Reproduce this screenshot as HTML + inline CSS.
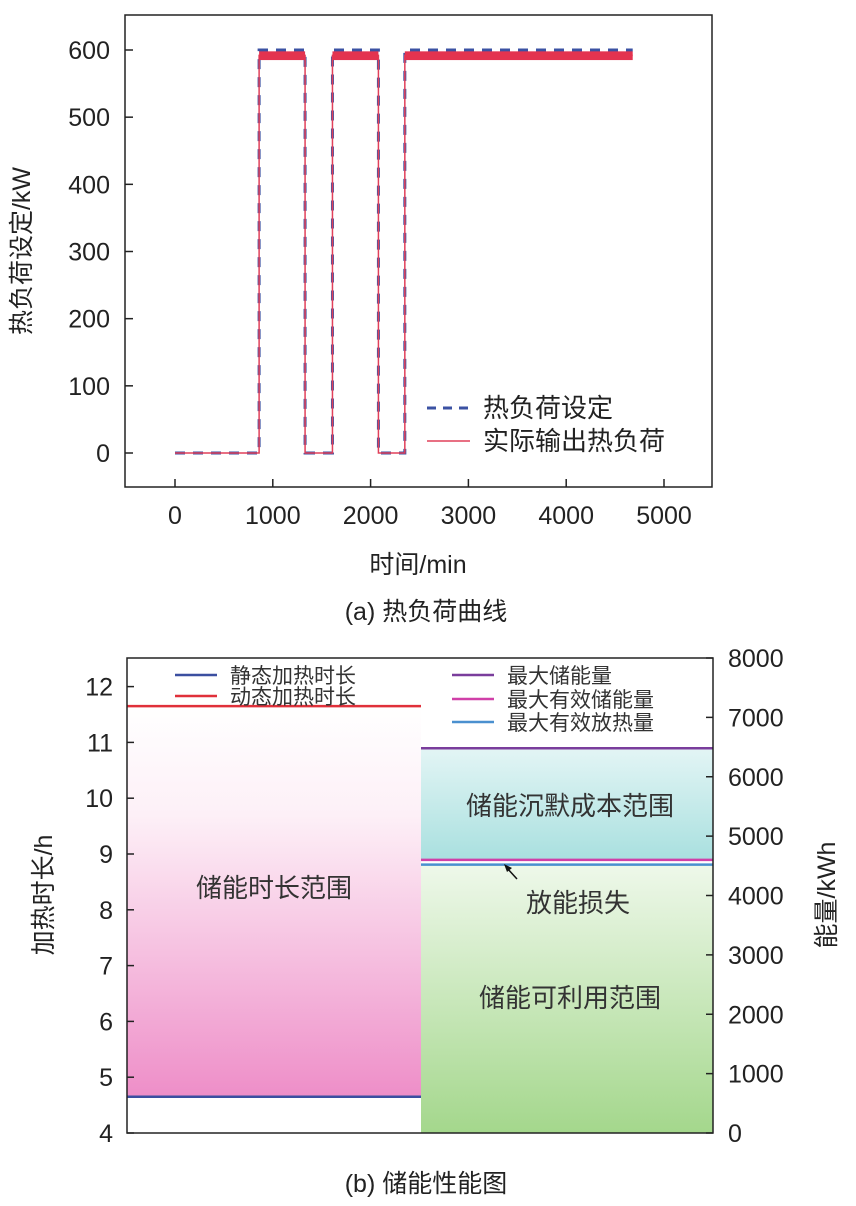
<!DOCTYPE html>
<html><head><meta charset="utf-8"><style>
body{margin:0;background:#fff;}
svg{display:block;font-family:"Liberation Sans","Noto Sans CJK SC",sans-serif;}
</style></head><body>
<svg width="856" height="1206" viewBox="0 0 856 1206">
<defs>
<linearGradient id="pink" x1="0" y1="0" x2="0" y2="1">
<stop offset="0" stop-color="#ffffff"/><stop offset="0.28" stop-color="#fdf0f7"/><stop offset="1" stop-color="#ee8ec8"/></linearGradient>
<linearGradient id="cyan" x1="0" y1="0" x2="0" y2="1">
<stop offset="0" stop-color="#e3f5f5"/><stop offset="1" stop-color="#a9e0df"/></linearGradient>
<linearGradient id="green" x1="0" y1="0" x2="0" y2="1">
<stop offset="0" stop-color="#eef8ea"/><stop offset="1" stop-color="#a4d78c"/></linearGradient>
</defs>
<g id="topchart"></g>
<g id="botchart"></g>
</svg>
<script>
const NS="http://www.w3.org/2000/svg";
function el(tag,attrs,parent,text){const e=document.createElementNS(NS,tag);for(const k in attrs)e.setAttribute(k,attrs[k]);if(text!==undefined)e.textContent=text;parent.appendChild(e);return e;}
// ---- Top chart data ----
const setTimes=[0,860,860,1330,1330,1610,1610,2080,2080,2350,2350,4680];
const setLoads=[0,0,600,600,0,0,600,600,0,0,600,600];
const actLoads=[0,0,592,592,0,0,592,592,0,0,592,592];
const xTicks=[0,1000,2000,3000,4000,5000];
const yTicks=[0,100,200,300,400,500,600];
const topG=document.getElementById('topchart');
const X=t=>175+t*0.0978, Y=v=>453-v*403/600;
let f=el('rect',{x:125,y:15,width:587,height:472,fill:'none',stroke:'#222','stroke-width':1.5},topG);


yTicks.forEach(v=>{el('line',{x1:125,x2:133,y1:Y(v),y2:Y(v),stroke:'#222','stroke-width':1.5},topG);
 const t=el('text',{x:110,y:Y(v)+9,'text-anchor':'end','font-size':25,fill:'#222'},topG,v);
 
 });
xTicks.forEach(v=>{el('line',{x1:X(v),x2:X(v),y1:487,y2:479,stroke:'#222','stroke-width':1.5},topG);
 const t=el('text',{x:X(v),y:524,'text-anchor':'middle','font-size':25,fill:'#222'},topG,v);
 
 });
let pts=setTimes.map((t,i)=>X(t)+','+Y(setLoads[i])).join(' ');
let sl=el('polyline',{points:pts,fill:'none',stroke:'#3b52a3','stroke-width':3,'stroke-dasharray':'10,8'},topG);


pts=setTimes.map((t,i)=>X(t)+','+Y(actLoads[i])).join(' ');
let al=el('polyline',{points:pts,fill:'none',stroke:'#e0405a','stroke-width':1.5},topG);


for(let i=2;i<setTimes.length;i+=4){
 const b=el('rect',{x:X(setTimes[i]),y:Y(598),width:X(setTimes[i+1])-X(setTimes[i]),height:Y(585)-Y(598),fill:'#e3334f'},topG);
 
 }
el('line',{x1:427,x2:470,y1:408,y2:408,stroke:'#3b52a3','stroke-width':3,'stroke-dasharray':'9,7'},topG);
el('text',{x:483,y:417,'font-size':26,fill:'#222'},topG,'热负荷设定');
el('line',{x1:427,x2:470,y1:441,y2:441,stroke:'#e0405a','stroke-width':1.5},topG);
el('text',{x:483,y:450,'font-size':26,fill:'#222'},topG,'实际输出热负荷');
let t=el('text',{x:30,y:251,'text-anchor':'middle','font-size':25,fill:'#222',transform:'rotate(-90 30 251)'},topG,'热负荷设定/kW');


t=el('text',{x:418,y:573,'text-anchor':'middle','font-size':25,fill:'#222'},topG,'时间/min');


t=el('text',{x:426,y:620,'text-anchor':'middle','font-size':25,fill:'#222'},topG,'(a) 热负荷曲线');


// ---- Bottom chart data ----
const leftTicks=[4,5,6,7,8,9,10,11,12];
const rightTicks=[0,1000,2000,3000,4000,5000,6000,7000,8000];
const staticHours=[4.65];
const dynamicHours=[11.65];
const energyLevels=[6480,4600,4520];
const botG=document.getElementById('botchart');
const YL=v=>1133-(v-4)*55.8, YR=v=>1133-v*475/8000;
const L=127,R=713,M=421;
let r=el('rect',{x:L,y:YL(dynamicHours[0]),width:M-L,height:YL(staticHours[0])-YL(dynamicHours[0]),fill:'url(#pink)'},botG);


r=el('rect',{x:M,y:YR(energyLevels[0]),width:R-M,height:YR(energyLevels[1])-YR(energyLevels[0]),fill:'url(#cyan)'},botG);


r=el('rect',{x:M,y:YR(energyLevels[2]),width:R-M,height:1133-YR(energyLevels[2]),fill:'url(#green)'},botG);


el('line',{x1:L,x2:M,y1:YL(dynamicHours[0]),y2:YL(dynamicHours[0]),stroke:'#e0303a','stroke-width':2.5},botG);
el('line',{x1:L,x2:M,y1:YL(staticHours[0]),y2:YL(staticHours[0]),stroke:'#3b4fa0','stroke-width':2.5},botG);
const ecol=['#7a3d9c','#d040a8','#4a90cf'];
energyLevels.forEach((v,i)=>{const l=el('line',{x1:M,x2:R,y1:YR(v),y2:YR(v),stroke:ecol[i],'stroke-width':2.5},botG);
 
 });
el('rect',{x:L,y:658,width:R-L,height:475,fill:'none',stroke:'#222','stroke-width':1.5},botG);
leftTicks.forEach(v=>{el('line',{x1:L,x2:L+7,y1:YL(v),y2:YL(v),stroke:'#222','stroke-width':1.5},botG);
 const t=el('text',{x:113,y:YL(v)+9,'text-anchor':'end','font-size':25,fill:'#222'},botG,v);
 
 });
rightTicks.forEach(v=>{el('line',{x1:R,x2:R-7,y1:YR(v),y2:YR(v),stroke:'#222','stroke-width':1.5},botG);
 const t=el('text',{x:728,y:YR(v)+9,'font-size':25,fill:'#222'},botG,v);
 
 });
const leg=[[175,675,'#3b4fa0','静态加热时长'],[175,696,'#e0303a','动态加热时长'],[452,675,'#7a3d9c','最大储能量'],[452,699,'#d040a8','最大有效储能量'],[452,722,'#4a90cf','最大有效放热量']];
leg.forEach(g=>{el('line',{x1:g[0],x2:g[0]+42,y1:g[1],y2:g[1],stroke:g[2],'stroke-width':2.5},botG);
 const t=el('text',{x:g[0]+55,y:g[1]+8,'font-size':21,fill:'#333'},botG,g[3]);
 
 });
el('text',{x:274,y:897,'text-anchor':'middle','font-size':26,fill:'#333'},botG,'储能时长范围');
el('text',{x:570,y:815,'text-anchor':'middle','font-size':26,fill:'#333'},botG,'储能沉默成本范围');
el('text',{x:578,y:912,'text-anchor':'middle','font-size':26,fill:'#333'},botG,'放能损失');
el('text',{x:570,y:1007,'text-anchor':'middle','font-size':26,fill:'#333'},botG,'储能可利用范围');
el('line',{x1:517,x2:507,y1:879,y2:868,stroke:'#111','stroke-width':1.5},botG);
el('polygon',{points:'504,864 512,868 507,872',fill:'#111'},botG);
t=el('text',{x:52,y:895,'text-anchor':'middle','font-size':25,fill:'#222',transform:'rotate(-90 52 895)'},botG,'加热时长/h');


t=el('text',{x:835,y:895,'text-anchor':'middle','font-size':25,fill:'#222',transform:'rotate(-90 835 895)'},botG,'能量/kWh');


t=el('text',{x:426,y:1192,'text-anchor':'middle','font-size':25,fill:'#222'},botG,'(b) 储能性能图');


</script>
</body></html>
